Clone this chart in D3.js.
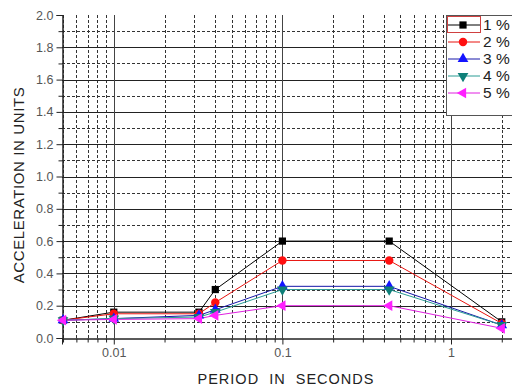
<!DOCTYPE html>
<html>
<head>
<meta charset="utf-8">
<script src="https://cdn.jsdelivr.net/npm/d3@7"></script>
<style>
  body { margin: 0; background: #fff; }
  svg { display: block; font-family: "Liberation Sans", Arial, sans-serif; }
</style>
</head>
<body>
<svg id="chart" width="512" height="387"></svg>
<script>
// DATA //////////////////////////////
const periods = [0.005, 0.01, 0.032, 0.04, 0.1, 0.43, 2];
const acc1 = [0.11, 0.16, 0.16, 0.30, 0.60, 0.60, 0.10];
const acc2 = [0.11, 0.15, 0.15, 0.22, 0.48, 0.48, 0.09];
const acc3 = [0.11, 0.12, 0.14, 0.175, 0.32, 0.32, 0.08];
const acc4 = [0.11, 0.12, 0.13, 0.16, 0.30, 0.30, 0.08];
const acc5 = [0.11, 0.115, 0.12, 0.14, 0.20, 0.20, 0.06];
const seriesNames = ["1 %", "2 %", "3 %", "4 %", "5 %"];
const xTickLabels = ["0.01", "0.1", "1"];
const yTicks = [0, 0.2, 0.4, 0.6, 0.8, 1.0, 1.2, 1.4, 1.6, 1.8, 2.0];

const seriesValues = [acc1, acc2, acc3, acc4, acc5];
const lineColors = ["#000000", "#e8130f", "#1616a8", "#2a9c94", "#e020e0"];
const markColors = ["#000000", "#ff1010", "#1414ff", "#0e7f78", "#ff20ff"];
const markShapes = [
  { type: d3.symbolSquare, size: 52, rot: 0 },
  { type: d3.symbolCircle, size: 56, rot: 0 },
  { type: d3.symbolTriangle, size: 50, rot: 0 },
  { type: d3.symbolTriangle, size: 50, rot: 180 },
  { type: d3.symbolTriangle, size: 50, rot: -90 }
];

//SCALES///////////////////////////////
const svg = d3.select("#chart");
const plotL = 62, plotR = 512, plotT = 15, plotB = 338;

const x = d3.scaleLog().domain([0.00493, 2.3]).range([plotL, plotR]);
const y = d3.scaleLinear().domain([0, 2]).range([plotB, plotT]);
const px = v => Math.round(v) + 0.5;

// minor values for the log axis
let xMinor = [];
[0.001, 0.01, 0.1, 1].forEach(d => {
  for (let k = 2; k <= 9; k++) {
    const v = k * d;
    if (v >= x.domain()[0] && v <= x.domain()[1]) xMinor.push(v);
  }
});
const xMajor = xTickLabels.map(Number);
const yMinor = d3.range(0.1, 2.0, 0.2);

//GRID/////////////////////////////////
const grid = svg.append("g");
grid.selectAll(".hmin").data(yMinor).join("line")
  .attr("x1", plotL).attr("x2", plotR)
  .attr("y1", d => px(y(d))).attr("y2", d => px(y(d)))
  .attr("stroke", "#333").attr("stroke-dasharray", "3,2");
grid.selectAll(".vmin").data(xMinor).join("line")
  .attr("x1", d => px(x(d))).attr("x2", d => px(x(d)))
  .attr("y1", plotT).attr("y2", plotB)
  .attr("stroke", "#333").attr("stroke-dasharray", "3,2");
grid.selectAll(".hmaj").data(yTicks.slice(1, -1)).join("line")
  .attr("x1", plotL).attr("x2", plotR)
  .attr("y1", d => px(y(d))).attr("y2", d => px(y(d)))
  .attr("stroke", "#222");
grid.selectAll(".vmaj").data(xMajor).join("line")
  .attr("x1", d => px(x(d))).attr("x2", d => px(x(d)))
  .attr("y1", plotT).attr("y2", plotB)
  .attr("stroke", "#444");

//AXES/////////////////////////////////
svg.append("g")
  .attr("transform", `translate(${plotL + 0.5},0)`)
  .call(d3.axisLeft(y).tickValues(yTicks).tickFormat(d3.format(".1f")).tickSizeOuter(0).tickSize(6).tickPadding(3));
svg.append("g")
  .attr("transform", `translate(${plotL + 0.5},0)`)
  .call(d3.axisLeft(y).tickValues(yMinor).tickFormat("").tickSizeOuter(0).tickSize(4));

svg.append("g")
  .attr("transform", `translate(0,${plotB + 0.5})`)
  .call(d3.axisBottom(x).tickValues(xMajor).tickFormat((d, i) => xTickLabels[i]).tickSizeOuter(0).tickSize(6).tickPadding(4));
svg.append("g")
  .attr("transform", `translate(0,${plotB + 0.5})`)
  .call(d3.axisBottom(x).tickValues(xMinor).tickFormat("").tickSizeOuter(0).tickSize(4));

svg.selectAll(".domain, .tick line").attr("stroke", "#222");
svg.selectAll(".tick text").attr("fill", "#555").style("font-size", "12.5px")
  .style("font-family", "'Liberation Sans', Arial, sans-serif");

//TITLES///////////////////////////////
svg.append("text")
  .attr("x", 286).attr("y", 384)
  .attr("text-anchor", "middle")
  .attr("fill", "#222")
  .style("font-size", "14.5px").style("letter-spacing", "1px")
  .style("white-space", "pre")
  .text("PERIOD  IN  SECONDS");
svg.append("text")
  .attr("transform", "translate(24,185) rotate(-90)")
  .attr("text-anchor", "middle")
  .attr("fill", "#222")
  .style("font-size", "15px").style("letter-spacing", "0.6px")
  .text("ACCELERATION IN UNITS");

//SERIES///////////////////////////////
const line = d3.line().x(d => x(d[0])).y(d => y(d[1]));
seriesValues.forEach((vals, i) => {
  const pts = periods.map((p, j) => [p, vals[j]]);
  svg.append("path").datum(pts)
    .attr("d", line).attr("fill", "none")
    .attr("stroke", lineColors[i]).attr("stroke-width", 1);
});
seriesValues.forEach((vals, i) => {
  const pts = periods.map((p, j) => [p, vals[j]]);
  const sh = markShapes[i];
  svg.append("g").selectAll("path").data(pts).join("path")
    .attr("d", d3.symbol().type(sh.type).size(sh.size))
    .attr("transform", d => `translate(${x(d[0])},${y(d[1])}) rotate(${sh.rot})`)
    .attr("fill", markColors[i]);
});

//LEGEND///////////////////////////////
const lg = svg.append("g").attr("transform", "translate(446,15)");
lg.append("rect").attr("x", 0.5).attr("y", 0.5).attr("width", 80).attr("height", 100)
  .attr("fill", "#fff").attr("stroke", "#555");
seriesNames.forEach((name, i) => {
  const cy = 10 + i * 17;
  const sh = markShapes[i];
  lg.append("line").attr("x1", 2).attr("x2", 34).attr("y1", cy).attr("y2", cy)
    .attr("stroke", lineColors[i]);
  lg.append("path")
    .attr("d", d3.symbol().type(sh.type).size(sh.size))
    .attr("transform", `translate(17,${cy}) rotate(${sh.rot})`)
    .attr("fill", markColors[i]);
  lg.append("text").attr("x", 37).attr("y", cy + 5)
    .attr("fill", "#222").style("font-size", "15.5px").text(name);
});
lg.append("rect").attr("x", 1.5).attr("y", 1.5).attr("width", 33).attr("height", 16)
  .attr("fill", "none").attr("stroke", "#d04040");
</script>
</body>
</html>
